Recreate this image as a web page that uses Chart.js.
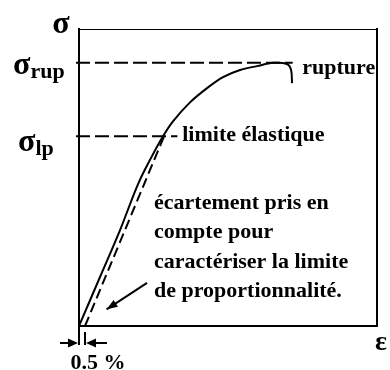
<!DOCTYPE html>
<html>
<head>
<meta charset="utf-8">
<script src="https://cdn.jsdelivr.net/npm/chart.js@4"></script>
<style>
  html, body { margin: 0; padding: 0; background: #ffffff; }
  #chart { display: block; }
</style>
</head>
<body>
<canvas id="chart" width="390" height="370"></canvas>
<script>
// strain in %, stress in arbitrary units (0..100)
const strainCurve = [0, 1.75, 3.42, 4.92, 6.08, 7.0, 7.83, 9.25, 10.67, 12.0, 13.42, 14.83, 16.17, 17.33, 17.67, 17.75];
const stressCurve = [0, 16.5, 32.3, 47.8, 57.2, 63.9, 68.9, 75.3, 80.1, 83.8, 86.2, 87.5, 88.6, 88.2, 86.2, 81.8];

const offsetStrain = [0.5, 7.15];
const offsetStress = [0, 64.5];

const sigmaRup = 88.6;
const sigmaLp = 63.9;
const rupLineStrain = [-0.25, 17.8];
const lpLineStrain = [-0.25, 8.2];

const arrowStrain = [5.67, 2.3];
const arrowStress = [14.5, 5.6];

const axisNames = ['ε', 'σ'];
const levelNames = ['rup', 'lp'];
const levelValues = [sigmaRup, sigmaLp];
const offsetValue = 0.5;
const offsetLabel = '0.5 %';
const rupLabel = 'rupture';
const lpLabel = 'limite élastique';
const noteLines = ['écartement pris en', 'compte pour', 'caractériser la limite', 'de proportionnalité.'];

const serif = '"Liberation Serif", "DejaVu Serif", serif';

function pairs(xs, ys) {
    return xs.map((v, i) => ({ x: v, y: ys[i] }));
}

function arrowHead(ctx, fx, fy, tx, ty, len, half) {
    const a = Math.atan2(ty - fy, tx - fx);
    ctx.beginPath();
    ctx.moveTo(tx, ty);
    ctx.lineTo(tx - len * Math.cos(a) + half * Math.sin(a), ty - len * Math.sin(a) - half * Math.cos(a));
    ctx.lineTo(tx - len * Math.cos(a) - half * Math.sin(a), ty - len * Math.sin(a) + half * Math.cos(a));
    ctx.closePath();
    ctx.fill();
}

const annotate = {
    id: 'annotate',
    afterDraw(chart) {
        const { ctx, scales: { x, y } } = chart;
        ctx.save();
        ctx.fillStyle = '#000';
        ctx.strokeStyle = '#000';
        ctx.textBaseline = 'alphabetic';

        // axis names
        ctx.font = 'bold 32px ' + serif;
        ctx.textAlign = 'center';
        ctx.fillText(axisNames[1], x.left - 18, y.top + 4);
        ctx.font = 'bold 28px ' + serif;
        ctx.fillText(axisNames[0], x.right + 4, y.bottom + 24);

        // sigma_rup, sigma_lp
        const lefts = [x.left - 66, x.left - 61];
        const drops = [11, 15];
        levelNames.forEach((name, i) => {
            const py = y.getPixelForValue(levelValues[i]);
            ctx.textAlign = 'left';
            ctx.font = 'bold 32px ' + serif;
            ctx.fillText('σ', lefts[i], py + drops[i]);
            const w = ctx.measureText('σ').width;
            ctx.font = 'bold 22px ' + serif;
            ctx.fillText(name, lefts[i] + w, py + drops[i] + 4);
        });

        // curve labels
        ctx.font = 'bold 22px ' + serif;
        ctx.textAlign = 'left';
        ctx.fillText(rupLabel, x.getPixelForValue(18.6), y.getPixelForValue(sigmaRup) + 11);
        ctx.fillText(lpLabel, x.getPixelForValue(8.6), y.getPixelForValue(sigmaLp) + 5);

        const nx = x.getPixelForValue(6.25);
        const ny = y.getPixelForValue(39.4);
        noteLines.forEach((line, i) => ctx.fillText(line, nx, ny + i * 29.3));

        // arrow head of the note
        const pts = chart.getDatasetMeta(4).data;
        arrowHead(ctx, pts[0].x, pts[0].y, pts[1].x, pts[1].y, 11, 4);

        // 0.5 % offset marker
        const x0 = x.getPixelForValue(0);
        const x1 = x.getPixelForValue(offsetValue);
        const ay = y.bottom + 17;
        ctx.lineWidth = 2;
        ctx.beginPath();
        ctx.moveTo(x0, y.bottom);
        ctx.lineTo(x0, y.bottom + 19);
        ctx.moveTo(x1, y.bottom + 6);
        ctx.lineTo(x1, y.bottom + 19);
        ctx.moveTo(x0 - 19, ay);
        ctx.lineTo(x0 - 4, ay);
        ctx.moveTo(x1 + 22, ay);
        ctx.lineTo(x1 + 4, ay);
        ctx.stroke();
        arrowHead(ctx, x0 - 12, ay, x0 - 1, ay, 10, 4.5);
        arrowHead(ctx, x1 + 12, ay, x1 + 1, ay, 10, 4.5);
        ctx.textAlign = 'center';
        ctx.font = 'bold 22px ' + serif;
        ctx.fillText(offsetLabel, (x0 + x1) / 2 + 16, y.bottom + 43);

        ctx.restore();
    }
};

const hiddenAxis = (position, min, max, width) => ({
    type: 'linear',
    position: position,
    min: min,
    max: max,
    ticks: { display: false },
    grid: { display: false, drawTicks: false },
    border: { display: true, color: '#000', width: width }
});

const lineStyle = {
    showLine: true,
    borderColor: '#000',
    backgroundColor: '#000',
    borderWidth: 2,
    pointRadius: 0,
    fill: false
};

new Chart(document.getElementById('chart'), {
    type: 'scatter',
    data: {
        datasets: [
            { ...lineStyle, data: pairs(strainCurve, stressCurve), tension: 0.35 },
            { ...lineStyle, data: pairs(offsetStrain, offsetStress), borderDash: [10, 5] },
            { ...lineStyle, data: pairs(rupLineStrain, [sigmaRup, sigmaRup]), borderDash: [14, 5], clip: false },
            { ...lineStyle, data: pairs(lpLineStrain, [sigmaLp, sigmaLp]), borderDash: [14, 5], clip: false },
            { ...lineStyle, data: pairs(arrowStrain, arrowStress) }
        ]
    },
    options: {
        responsive: false,
        animation: false,
        layout: { padding: { left: 79, top: 29, right: 13, bottom: 44 } },
        plugins: {
            legend: { display: false },
            tooltip: { enabled: false }
        },
        scales: {
            x: hiddenAxis('bottom', 0, 24.83, 2),
            x2: hiddenAxis('top', 0, 24.83, 1),
            y: hiddenAxis('left', 0, 100, 2),
            y2: hiddenAxis('right', 0, 100, 2)
        }
    },
    plugins: [annotate]
});
</script>
</body>
</html>
